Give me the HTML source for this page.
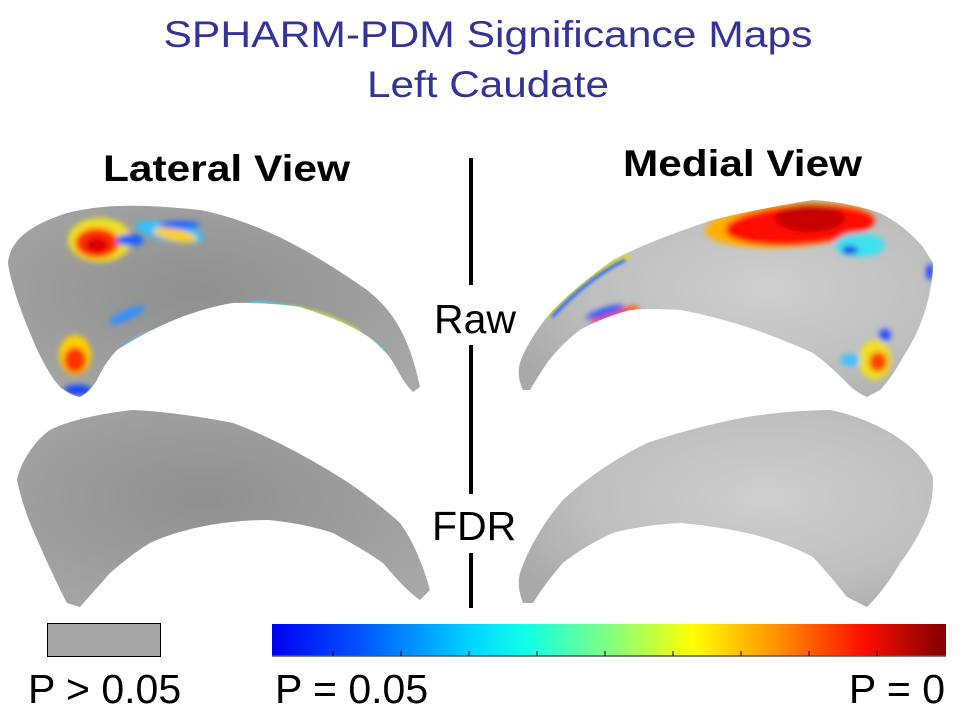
<!DOCTYPE html>
<html><head><meta charset="utf-8"><style>
html,body{margin:0;padding:0;background:#fff;}
svg{display:block;font-family:"Liberation Sans",Arial,sans-serif;}
</style></head><body>
<svg width="960" height="720" viewBox="0 0 960 720" xmlns="http://www.w3.org/2000/svg">
<defs>
<radialGradient id="gl" cx="0.45" cy="0.45" r="0.7">
<stop offset="0" stop-color="#8f8f8f"/><stop offset="0.6" stop-color="#9e9e9e"/><stop offset="1" stop-color="#a8a8a8"/></radialGradient>
<radialGradient id="gr" cx="0.6" cy="0.45" r="0.7">
<stop offset="0" stop-color="#cfcfcf"/><stop offset="0.6" stop-color="#bfbfbf"/><stop offset="1" stop-color="#a9a9a9"/></radialGradient>
<linearGradient id="jet" x1="0" x2="1" y1="0" y2="0">
<stop offset="0" stop-color="#0000f0"/><stop offset="0.125" stop-color="#0050ff"/><stop offset="0.3" stop-color="#00d8ff"/><stop offset="0.375" stop-color="#10ffe8"/><stop offset="0.5" stop-color="#80ff80"/><stop offset="0.625" stop-color="#ffff00"/><stop offset="0.75" stop-color="#ff9000"/><stop offset="0.875" stop-color="#ff1000"/><stop offset="1" stop-color="#800000"/></linearGradient>
<filter id="b" x="-50%" y="-50%" width="200%" height="200%"><feGaussianBlur stdDeviation="3"/></filter>
<filter id="b2" x="-50%" y="-50%" width="200%" height="200%"><feGaussianBlur stdDeviation="1.5"/></filter>
<clipPath id="cL"><path id="pL" d="M8,263 C10,240 30,225 67,213 C100,205 133,203 200,210 C250,220 300,243 367,290 C395,312 410,340 420,387 L413,392 C400,380 395,360 383,350 C370,335 350,323 300,307 C270,302 233,303 233,303 C200,308 167,323 167,323 C140,335 117,350 117,350 C105,362 97,380 97,380 C90,392 80,397 80,397 C70,395 60,387 60,387 C45,370 33,340 33,340 C20,310 10,280 8,263 Z"/></clipPath>
<clipPath id="cR"><path id="pR" d="M523,390 C518,380 518,370 520,363 C528,340 547,317 547,317 C570,290 613,260 613,260 C650,240 713,220 713,220 C750,210 813,200 813,200 C850,202 880,213 880,213 C905,225 923,247 923,247 L933,263 C933,290 923,317 923,317 C915,340 903,357 903,357 C892,378 880,390 880,390 L867,397 C855,392 847,383 847,383 C830,365 813,353 813,353 C780,338 747,327 747,327 C710,315 680,310 680,310 C650,308 630,310 630,310 C600,318 580,330 580,330 C560,345 547,363 547,363 C537,378 530,390 530,390 Z"/></clipPath>
</defs>

<text x="488" y="47" font-size="37" fill="#333399" text-anchor="middle" textLength="649" lengthAdjust="spacingAndGlyphs">SPHARM-PDM Significance Maps</text>
<text x="488" y="97" font-size="37" fill="#333399" text-anchor="middle" textLength="242" lengthAdjust="spacingAndGlyphs">Left Caudate</text>
<text x="103" y="181" font-size="37" font-weight="bold" textLength="247" lengthAdjust="spacingAndGlyphs">Lateral View</text>
<text x="623" y="176" font-size="37" font-weight="bold" textLength="239" lengthAdjust="spacingAndGlyphs">Medial View</text>

<g stroke="#000" stroke-width="4">
<line x1="471" y1="158" x2="471" y2="285"/><line x1="471" y1="345" x2="471" y2="494"/><line x1="471" y1="553" x2="471" y2="608"/></g>
<text x="434" y="333" font-size="41">Raw</text>
<text x="432" y="540" font-size="41">FDR</text>

<!-- left raw -->
<use href="#pL" fill="url(#gl)"/>
<g clip-path="url(#cL)">
<g filter="url(#b)">
<ellipse cx="100" cy="240" rx="32" ry="22" fill="#f0e020"/>
<ellipse cx="97" cy="243" rx="22" ry="15" fill="#ff3000"/>
<ellipse cx="97" cy="245" rx="12" ry="8" fill="#dd0000"/>
<ellipse cx="130" cy="240" rx="14" ry="6" fill="#1060ff"/>
<ellipse cx="170" cy="232" rx="35" ry="9" fill="#30c0ff" transform="rotate(10 170 232)"/>
<ellipse cx="175" cy="235" rx="22" ry="6" fill="#ffd000" transform="rotate(12 175 235)"/>
<ellipse cx="180" cy="225" rx="20" ry="4" fill="#2060ff"/>
<ellipse cx="75" cy="355" rx="16" ry="20" fill="#ffd000"/>
<ellipse cx="75" cy="360" rx="11" ry="13" fill="#ff3000"/>
<ellipse cx="78" cy="390" rx="14" ry="5" fill="#1040ff"/>
<ellipse cx="127" cy="315" rx="20" ry="5" fill="#3090ff" transform="rotate(-25 127 315)"/>
<ellipse cx="145" cy="340" rx="22" ry="5" fill="#40d0ff" transform="rotate(-20 145 340)"/>
<ellipse cx="148" cy="340" rx="8" ry="4" fill="#e0e020"/>
</g>
<path d="M250,304 C300,306 340,318 383,352" stroke="#40e0ff" stroke-width="5" fill="none" filter="url(#b2)"/>
<path d="M290,307 C320,312 340,320 360,332" stroke="#e0e020" stroke-width="3" fill="none" filter="url(#b2)"/>
</g>

<!-- left FDR -->
<path d="M17,480 C20,463 35,440 50,430 C80,415 133,410 133,410 C180,412 233,423 233,423 C280,440 333,473 333,473 C370,495 400,523 400,523 C420,550 430,590 430,590 L420,600 C405,590 383,563 383,563 C365,550 333,533 333,533 C300,522 267,520 267,520 C230,520 200,527 200,527 C170,533 150,543 150,543 C130,555 110,573 110,573 C95,590 80,607 80,607 L67,603 C50,570 33,530 33,530 C22,505 17,480 17,480 Z" fill="url(#gl)"/>

<!-- right raw -->
<use href="#pR" fill="url(#gr)"/>
<g clip-path="url(#cR)">
<g filter="url(#b)">
<ellipse cx="790" cy="225" rx="85" ry="22" fill="#ffb000" transform="rotate(-4 790 225)"/>
<ellipse cx="800" cy="225" rx="75" ry="20" fill="#ff1000" transform="rotate(-4 800 225)"/>
<ellipse cx="810" cy="218" rx="35" ry="14" fill="#c80000"/>
<ellipse cx="860" cy="245" rx="25" ry="12" fill="#40e0f0"/>
<ellipse cx="850" cy="250" rx="8" ry="4" fill="#1030e0"/>
<ellipse cx="930" cy="272" rx="4" ry="8" fill="#2040ff"/>
<ellipse cx="875" cy="360" rx="16" ry="20" fill="#f0e020"/>
<ellipse cx="878" cy="362" rx="9" ry="10" fill="#ff4000"/>
<ellipse cx="885" cy="335" rx="6" ry="6" fill="#2050ff"/>
<ellipse cx="850" cy="360" rx="10" ry="6" fill="#40c0ff"/>
<ellipse cx="615" cy="315" rx="25" ry="5" fill="#ff5000" transform="rotate(-18 615 315)"/>
<ellipse cx="605" cy="312" rx="20" ry="4" fill="#2050ff" transform="rotate(-18 605 312)"/>
</g>
<path d="M548,316 C570,290 600,268 630,255" stroke="#e0e020" stroke-width="4" fill="none" filter="url(#b2)"/>
<path d="M552,317 C575,292 600,272 625,260" stroke="#2060ff" stroke-width="3" fill="none" filter="url(#b2)"/>
</g>

<!-- right FDR -->
<path d="M523,603 C518,590 518,580 520,573 C535,530 563,500 563,500 C600,465 647,443 647,443 C700,425 747,417 747,417 C790,410 830,410 830,410 C870,418 897,437 897,437 C925,455 933,477 933,477 C934,500 927,517 927,517 C915,545 900,563 900,563 C885,590 867,607 867,607 L847,597 C830,575 813,557 813,557 C780,540 747,533 747,533 C710,525 680,523 680,523 C640,525 613,533 613,533 C585,545 563,563 563,563 C545,583 533,603 533,603 Z" fill="url(#gr)"/>

<!-- legend -->
<rect x="47.5" y="623.5" width="113" height="33" fill="#a6a6a6" stroke="#000" stroke-width="1"/>
<rect x="272" y="624" width="674" height="32" fill="url(#jet)"/>
<line x1="272" y1="656" x2="946" y2="656" stroke="#555" stroke-width="1.5"/>
<g stroke="#000" stroke-width="1">
<line x1="333" y1="651" x2="333" y2="656"/><line x1="401" y1="651" x2="401" y2="656"/><line x1="469" y1="651" x2="469" y2="656"/><line x1="537" y1="651" x2="537" y2="656"/><line x1="605" y1="651" x2="605" y2="656"/><line x1="673" y1="651" x2="673" y2="656"/><line x1="741" y1="651" x2="741" y2="656"/><line x1="809" y1="651" x2="809" y2="656"/><line x1="877" y1="651" x2="877" y2="656"/></g>
<text x="28" y="703" font-size="41">P &gt; 0.05</text>
<text x="275" y="703" font-size="41">P = 0.05</text>
<text x="945" y="703" font-size="41" text-anchor="end">P = 0</text>
</svg>
</body></html>
